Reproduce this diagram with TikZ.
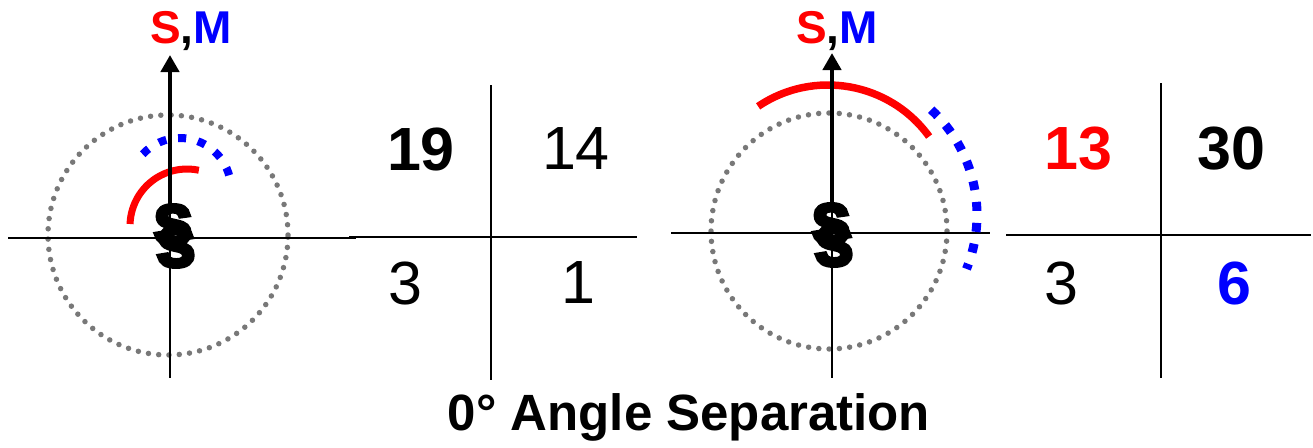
\documentclass[tikz,border=0pt]{standalone}
\usepackage{fontspec}
\setmainfont{Liberation Sans}
\newfontfamily\heavyS[FakeBold=9]{Liberation Sans Bold}
\usetikzlibrary{arrows.meta}
\definecolor{myred}{RGB}{255,0,0}
\definecolor{myblue}{RGB}{0,0,255}
\definecolor{mygray}{RGB}{120,120,120}
\tikzset{
  axisline/.style={line width=2.5pt, black},
  shaftline/.style={line width=4.5pt, black, -{Triangle[width=18pt,length=17pt]}},
  dotcircle/.style={line width=5.5pt, mygray, dash pattern=on 0pt off 10.3pt, line cap=round},
  redarc/.style={line width=7.5pt, myred},
  bluearc/.style={line width=9pt, myblue, dash pattern=on 9pt off 12pt},
  numtxt/.style={inner sep=0pt, font=\fontsize{61}{61}\selectfont},
  bnumtxt/.style={inner sep=0pt, font=\fontsize{61}{61}\selectfont\bfseries},
  smlabel/.style={inner sep=0pt, anchor=base, font=\fontsize{46}{46}\selectfont\bfseries},
  glyph/.style={inner sep=0pt, font=\fontsize{55}{55}\heavyS},
  tabline/.style={line width=2.5pt, black}
}
\begin{document}
\begin{tikzpicture}[x=1pt,y=1pt]
\useasboundingbox (0,0) rectangle (1313,-447);
% ---------- left diagram ----------
\coordinate (LW) at (8,-238);
\coordinate (LE) at (356,-238);
\coordinate (LS) at (170,-378);
\coordinate (LB) at (170,-210);
\coordinate (LN) at (170,-55);
\coordinate (Lcirc) at (168,-235);
\coordinate (Lred) at (187,-226);
\coordinate (Lblue) at (180,-189);
\draw[dotcircle] (Lcirc) circle[radius=120pt];
\draw[axisline] (LW) -- (LE);
\draw[axisline] (LB) -- (LS);
\draw[bluearc, line width=8pt, dash pattern=on 8pt off 12pt] (Lblue) ++(137:51pt) arc[start angle=137, end angle=10, radius=51pt];
\draw[redarc, line width=7pt] (Lred) ++(178:57pt) arc[start angle=178, end angle=78, radius=57pt];
\draw[shaftline] (LB) -- (LN);
\node[glyph] (Lg1) at (173,-225) {S};
\node[glyph] (Lg2) at (176,-247) {S};
\node[smlabel] (Llab) at (191,-43) {\textcolor{myred}{S},\textcolor{myblue}{M}};
% ---------- left table ----------
\coordinate (T1N) at (491,-85);
\coordinate (T1S) at (491,-380);
\coordinate (T1W) at (349,-237);
\coordinate (T1E) at (637,-237);
\draw[tabline] (T1N) -- (T1S);
\draw[tabline] (T1W) -- (T1E);
\node[bnumtxt] (a19) at (421,-149) {19};
\node[numtxt] (a14) at (576,-149) {14};
\node[numtxt] (a3) at (405,-283) {3};
\node[numtxt] (a1) at (578,-283) {1};
% ---------- right diagram ----------
\coordinate (RW) at (671,-233);
\coordinate (RE) at (990,-233);
\coordinate (RS) at (832,-378);
\coordinate (RB) at (832,-210);
\coordinate (RN) at (832,-53);
\coordinate (Rcirc) at (829,-231);
\coordinate (Rred) at (828,-210);
\coordinate (Rblue) at (833,-215);
\draw[dotcircle] (Rcirc) circle[radius=118pt];
\draw[axisline] (RW) -- (RE);
\draw[axisline] (RB) -- (RS);
\draw[bluearc] (Rblue) ++(47:144pt) arc[start angle=47, end angle=-22, radius=144pt];
\draw[redarc] (Rred) ++(124:125pt) arc[start angle=124, end angle=36, radius=125pt];
\draw[shaftline] (RB) -- (RN);
\node[glyph] (Rg1) at (831,-224) {S};
\node[glyph] (Rg2) at (834,-246) {S};
\node[smlabel] (Rlab) at (837,-43) {\textcolor{myred}{S},\textcolor{myblue}{M}};
% ---------- right table ----------
\coordinate (T2N) at (1161,-83);
\coordinate (T2S) at (1161,-378);
\coordinate (T2W) at (1006,-235);
\coordinate (T2E) at (1311,-235);
\draw[tabline] (T2N) -- (T2S);
\draw[tabline] (T2W) -- (T2E);
\node[bnumtxt, text=myred] (b13) at (1078,-149) {13};
\node[bnumtxt] (b30) at (1231,-149) {30};
\node[numtxt] (b3) at (1061,-283) {3};
\node[bnumtxt, text=myblue] (b6) at (1234,-283) {6};
% ---------- title ----------
\node[inner sep=0pt, anchor=base, font=\fontsize{51}{51}\selectfont\bfseries] (title) at (689,-430) {0° Angle Separation};
\end{tikzpicture}
\end{document}
